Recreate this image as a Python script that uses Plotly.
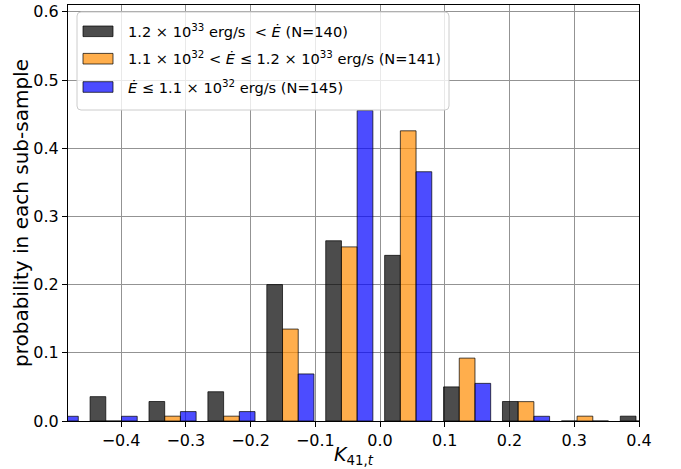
import plotly.graph_objects as go

# Histogram bin edges of K_{41,t} (11 equal bins)
bin_edges = [-0.548, -0.457, -0.366, -0.275, -0.184, -0.093,
             -0.002, 0.089, 0.180, 0.271, 0.362, 0.453]

# Probability per bin in each spin-down-power sub-sample
prob_high = [0.0, 0.0357, 0.0286, 0.0429, 0.2000, 0.2643,
             0.2429, 0.0500, 0.0286, 0.0, 0.0071]
prob_mid = [0.0, 0.0, 0.0071, 0.0071, 0.1348, 0.2553,
            0.4255, 0.0922, 0.0284, 0.0071, 0.0]
prob_low = [0.0069, 0.0069, 0.0138, 0.0138, 0.0690, 0.4552,
            0.3655, 0.0552, 0.0069, 0.0, 0.0]

labels = [
    "1.2 × 10<sup>33</sup> erg/s  &lt; <i>Ė</i> (N=140)",
    "1.1 × 10<sup>32</sup> &lt; <i>Ė</i> ≤ 1.2 × 10<sup>33</sup> erg/s (N=141)",
    "<i>Ė</i> ≤ 1.1 × 10<sup>32</sup> erg/s (N=145)",
]

x_ticks = [-0.4, -0.3, -0.2, -0.1, 0.0, 0.1, 0.2, 0.3, 0.4]
x_ticktext = ["−0.4", "−0.3", "−0.2", "−0.1", "0.0", "0.1", "0.2", "0.3", "0.4"]
y_ticks = [0.0, 0.1, 0.2, 0.3, 0.4, 0.5, 0.6]
y_ticktext = ["0.0", "0.1", "0.2", "0.3", "0.4", "0.5", "0.6"]

fills = ["rgba(0,0,0,0.7)", "rgba(255,140,0,0.7)", "rgba(0,0,255,0.7)"]
edge = "rgba(0,0,0,0.7)"
FONT = "DejaVu Sans"

centers = [(a + b) / 2 for a, b in zip(bin_edges[:-1], bin_edges[1:])]

fig = go.Figure()
for vals, col, name in zip([prob_high, prob_mid, prob_low], fills, labels):
    fig.add_trace(go.Bar(
        x=centers, y=vals, name=name,
        marker=dict(color=col, line=dict(color=edge, width=1)),
        showlegend=False,
    ))

W, H = 681, 469
L, R, T, B = 68, 42, 5, 48
pw, ph = W - L - R, H - T - B


def px2x(px):
    return (px - L) / pw


def px2y(py):
    return (H - B - py) / ph


axis_common = dict(
    showline=True, mirror=True, linecolor="black", linewidth=1,
    ticks="outside", ticklen=5, tickwidth=1, tickcolor="black",
    showgrid=True, gridcolor="#939393", gridwidth=1.4,
    zeroline=False, layer="above traces",
    tickfont=dict(family=FONT, size=16, color="black"),
)

fig.update_layout(
    width=W, height=H,
    margin=dict(l=L, r=R, t=T, b=B, autoexpand=False),
    paper_bgcolor="white", plot_bgcolor="white",
    barmode="group", bargap=0.2, bargroupgap=0.0,
    xaxis=dict(range=[-0.482, 0.4], tickvals=x_ticks, ticktext=x_ticktext,
               **axis_common),
    yaxis=dict(range=[0, 0.61], tickvals=y_ticks, ticktext=y_ticktext,
               **axis_common),
)

# Legend box with rounded corners
bx0, by0, bx1, by1, rad = 77, 12, 449, 110, 4
rx, ry = rad / pw, rad / ph
X0, X1, Y0, Y1 = px2x(bx0), px2x(bx1), px2y(by1), px2y(by0)
path = (f"M {X0+rx},{Y1} L {X1-rx},{Y1} Q {X1},{Y1} {X1},{Y1-ry} "
        f"L {X1},{Y0+ry} Q {X1},{Y0} {X1-rx},{Y0} L {X0+rx},{Y0} "
        f"Q {X0},{Y0} {X0},{Y0+ry} L {X0},{Y1-ry} Q {X0},{Y1} {X0+rx},{Y1} Z")
shapes = [dict(type="path", xref="paper", yref="paper", path=path,
               fillcolor="rgba(255,255,255,0.8)",
               line=dict(color="#cccccc", width=1), layer="above")]
annotations = []
row_centers = [31.3, 58.7, 87.0]
for yc, col, name in zip(row_centers, fills, labels):
    shapes.append(dict(type="rect", xref="paper", yref="paper",
                       x0=px2x(83), x1=px2x(113), y0=px2y(yc + 5.3), y1=px2y(yc - 5.3),
                       fillcolor=col, line=dict(color=edge, width=1), layer="above"))
    annotations.append(dict(xref="paper", yref="paper", x=px2x(126), y=px2y(yc - 0.5),
                            xanchor="left", yanchor="middle", showarrow=False,
                            text=name, font=dict(family=FONT, size=14.6, color="black")))

# Axis titles
annotations.append(dict(xref="paper", yref="paper", x=0.5, y=px2y(455),
                        xanchor="center", yanchor="middle", showarrow=False,
                        text="<i>K</i><sub>41,<i>t</i></sub>",
                        font=dict(family=FONT, size=19, color="black")))
annotations.append(dict(xref="paper", yref="paper", x=px2x(21), y=0.5,
                        xanchor="center", yanchor="middle", showarrow=False,
                        textangle=-90, text="probability in each sub-sample",
                        font=dict(family=FONT, size=20, color="black")))

fig.update_layout(shapes=shapes, annotations=annotations)
fig.write_html("out.html")
